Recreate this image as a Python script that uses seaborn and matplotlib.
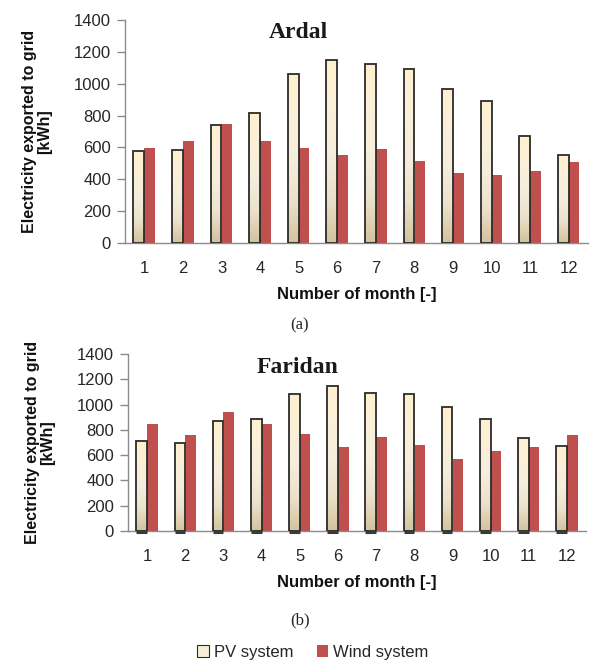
import numpy as np
import pandas as pd
import matplotlib
matplotlib.use("Agg")
import matplotlib.pyplot as plt
from matplotlib.colors import LinearSegmentedColormap
from matplotlib.patches import Patch
import seaborn as sns

# Monthly electricity exported to the grid [kWh]
months = [str(m) for m in range(1, 13)]
ardal_pv = [575, 583, 738, 817, 1060, 1150, 1124, 1095, 970, 890, 673, 550]
ardal_wind = [596, 640, 750, 640, 596, 552, 588, 516, 437, 426, 451, 506]
faridan_pv = [708, 695, 868, 889, 1082, 1147, 1095, 1082, 979, 889, 732, 676]
faridan_wind = [847, 758, 940, 847, 768, 668, 747, 679, 568, 634, 668, 758]
systems = ["PV system", "Wind system"]
sites = ["Ardal", "Faridan"]
panel_tags = ["(a)", "(b)"]
y_ticks = [0, 200, 400, 600, 800, 1000, 1200, 1400]

sns.set_theme(style="white")
plt.rcParams["font.family"] = ["Liberation Sans", "DejaVu Sans"]

PV_EDGE = "#2b2b2b"
WIND = "#C0504D"
AXIS_GREY = "#8c8c8c"
pv_cmap = LinearSegmentedColormap.from_list(
    "pv", ["#d3c29c", "#ebe2cc", "#f5eedd", "#fbf0d8", "#fff0cf"])


def long_frame(pv, wind):
    return pd.DataFrame({
        "month": months * 2,
        "value": pv + wind,
        "system": [systems[0]] * 12 + [systems[1]] * 12,
    })


fig = plt.figure(figsize=(5.91, 6.63), dpi=100)
axes = [fig.add_axes([0.2115, 0.6335, 0.7834, 0.3363]),
        fig.add_axes([0.2166, 0.1991, 0.7750, 0.2670])]
series = [(ardal_pv, ardal_wind), (faridan_pv, faridan_wind)]
title_x = [0.374, 0.371]

for i, (ax, (pv, wind)) in enumerate(zip(axes, series)):
    df = long_frame(pv, wind)
    sns.barplot(data=df, x="month", y="value", hue="system",
                palette=["#fbf0d8", WIND], width=0.56, saturation=1,
                legend=False, ax=ax, zorder=2)
    grad = np.linspace(0, 1, 256).reshape(-1, 1)
    for j, patch in enumerate(ax.patches):
        if j < 12:  # PV bars: cream-to-tan gradient with dark outline
            x0, y0 = patch.get_x(), patch.get_y()
            w, h = patch.get_width(), patch.get_height()
            patch.set_facecolor("none")
            patch.set_edgecolor(PV_EDGE)
            patch.set_linewidth(1.3)
            patch.set_zorder(3)
            ax.imshow(grad, cmap=pv_cmap, origin="lower", aspect="auto",
                      extent=(x0, x0 + w, y0, y0 + h), zorder=2,
                      interpolation="bicubic")
            if i == 1:
                ax.hlines(-8, x0, x0 + w, colors="#3a3a3a", lw=2.2,
                          zorder=4, clip_on=False)
        else:
            patch.set_edgecolor("none")
    ax.set_xlim(-0.5, 11.5)
    ax.set_ylim(0, 1400)
    ax.set_yticks(y_ticks)
    ax.set_yticklabels([str(v) for v in y_ticks], fontsize=12,
                       color="#262626")
    ax.set_xticks(range(12))
    ax.set_xticklabels(months, fontsize=12, color="#262626")
    ax.set_xticks(np.arange(-0.5, 12, 1), minor=True)
    ax.tick_params(axis="x", which="major", length=0, pad=13)
    ax.tick_params(axis="x", which="minor", length=6, color=AXIS_GREY,
                   width=1, direction="out")
    ax.tick_params(axis="y", length=6, color=AXIS_GREY, width=1,
                   direction="out", left=True, pad=4)
    for side in ["top", "right"]:
        ax.spines[side].set_visible(False)
    for side in ["left", "bottom"]:
        ax.spines[side].set_color(AXIS_GREY)
        ax.spines[side].set_linewidth(1)
    ax.set_xlabel("Number of month [-]", fontsize=12, fontweight="bold",
                  labelpad=8, color="#111111")
    ax.set_ylabel("Electricity exported to grid\n[kWh]", fontsize=11.5,
                  fontweight="bold", labelpad=16, color="#111111",
                  linespacing=1.0)
    ax.text(title_x[i], 0.99 if i == 0 else 0.985, sites[i],
            transform=ax.transAxes, ha="center", va="top",
            family="Liberation Serif", fontweight="bold", fontsize=17,
            color="#1a1a1a")

# Panel tags beneath each chart
fig.text(300 / 591, 1 - 325 / 663, panel_tags[0], ha="center", va="center",
         family="Liberation Serif", fontsize=12)
fig.text(300 / 591, 1 - 620 / 663, panel_tags[1], ha="center", va="center",
         family="Liberation Serif", fontsize=12)

handles = [Patch(facecolor="#f7eed6", edgecolor=PV_EDGE, linewidth=0.8),
           Patch(facecolor=WIND, edgecolor="none")]
fig.legend(handles, systems, loc="center", bbox_to_anchor=(313 / 591, 1 - 652 / 663),
           ncol=2, frameon=False, fontsize=12, handlelength=0.7,
           handleheight=0.7, handletextpad=0.3, columnspacing=1.4)

fig.savefig("out.png", dpi=100)
